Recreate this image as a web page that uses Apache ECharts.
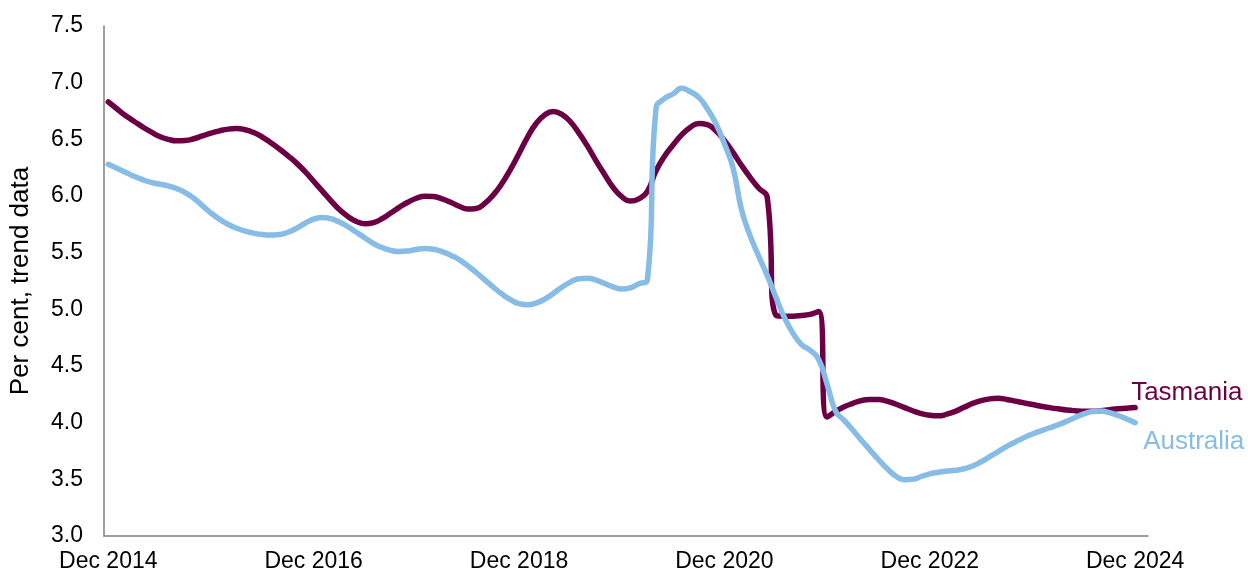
<!DOCTYPE html>
<html>
<head>
<meta charset="utf-8">
<script src="https://cdn.jsdelivr.net/npm/echarts@6/dist/echarts.min.js"></script>
<style>
  html, body { margin: 0; padding: 0; background: #ffffff; }
  #chart { width: 1248px; height: 575px; }
</style>
</head>
<body>
<div id="chart"></div>
<script>
// Monthly categories, Dec 2014 to Jan 2025
const monthNames = ['Jan', 'Feb', 'Mar', 'Apr', 'May', 'Jun', 'Jul', 'Aug', 'Sep', 'Oct', 'Nov', 'Dec'];
const categories = [];
for (let i = 0; i < 122; i++) {
  const k = 11 + i;
  categories.push(monthNames[k % 12] + ' ' + (2014 + Math.floor(k / 12)));
}

// Unemployment rate, per cent, trend data (Dec 2014 .. Dec 2024)
const tasmania = [
  6.83, 6.77, 6.71, 6.66, 6.61, 6.565, 6.525, 6.50, 6.487, 6.49, 6.505, 6.53,
  6.555, 6.575, 6.59, 6.595, 6.585, 6.56, 6.52, 6.47, 6.415, 6.355, 6.29, 6.215,
  6.13, 6.045, 5.96, 5.88, 5.82, 5.775, 5.755, 5.765, 5.80, 5.85, 5.90, 5.945,
  5.98, 5.998, 5.995, 5.975, 5.945, 5.91, 5.885, 5.89, 5.935, 6.01, 6.11, 6.235,
  6.375, 6.52, 6.64, 6.715, 6.745, 6.72, 6.655, 6.555, 6.44, 6.31, 6.19, 6.075,
  5.995, 5.955, 5.975, 6.04, 6.22, 6.35, 6.45, 6.54, 6.605, 6.64, 6.63, 6.575,
  6.49, 6.385, 6.27, 6.165, 6.07, 5.99, 4.95, 4.94, 4.94, 4.945, 4.955, 4.98,
  4.05, 4.10, 4.14, 4.17, 4.195, 4.205, 4.205, 4.19, 4.165, 4.135, 4.105, 4.08,
  4.065, 4.06, 4.075, 4.10, 4.135, 4.17, 4.195, 4.21, 4.215, 4.205, 4.19, 4.175,
  4.16, 4.145, 4.133, 4.122, 4.112, 4.105, 4.10, 4.10, 4.105, 4.115, 4.122, 4.128,
  4.133
];
const australia = [
  6.28, 6.245, 6.21, 6.175, 6.145, 6.12, 6.105, 6.09, 6.065, 6.03, 5.98, 5.915,
  5.85, 5.795, 5.75, 5.715, 5.69, 5.672, 5.66, 5.655, 5.66, 5.68, 5.715, 5.76,
  5.795, 5.81, 5.80, 5.77, 5.73, 5.68, 5.63, 5.58, 5.545, 5.52, 5.51, 5.515,
  5.528, 5.537, 5.53, 5.51, 5.478, 5.438, 5.385, 5.325, 5.26, 5.195, 5.135, 5.085,
  5.05, 5.04, 5.055, 5.09, 5.14, 5.195, 5.24, 5.27, 5.275, 5.258, 5.228, 5.198,
  5.18, 5.19, 5.225, 5.26, 6.77, 6.86, 6.90, 6.95, 6.92, 6.87, 6.77, 6.64,
  6.46, 6.25, 5.88, 5.65, 5.47, 5.30, 5.11, 4.93, 4.79, 4.69, 4.64, 4.56,
  4.34, 4.10, 4.02, 3.935, 3.845, 3.76, 3.675, 3.595, 3.53, 3.497, 3.50, 3.525,
  3.548, 3.563, 3.573, 3.58, 3.593, 3.617, 3.655, 3.70, 3.745, 3.79, 3.83, 3.868,
  3.90, 3.928, 3.955, 3.982, 4.012, 4.045, 4.077, 4.098, 4.103, 4.088, 4.063, 4.033,
  4.00
];

const seriesNames = ['Tasmania', 'Australia'];
const yTicks = { min: 3, max: 7.5, step: 0.5 };
const axisTitle = 'Per cent, trend data';

const FONT = '"Liberation Sans", Arial, sans-serif';
const colTas = '#6c0044';
const colAus = '#87bce6';

const chart = echarts.init(document.getElementById('chart'), null, { renderer: 'canvas' });

chart.setOption({
  animation: false,
  backgroundColor: '#ffffff',
  grid: { left: 104, right: 100, top: 26, bottom: 39, containLabel: false, outerBoundsMode: 'none' },
  xAxis: {
    type: 'category',
    data: categories,
    boundaryGap: true,
    axisLine: { show: true, lineStyle: { color: '#7f7f7f', width: 1.5 } },
    axisTick: { show: false },
    splitLine: { show: false },
    axisLabel: {
      interval: function (index) { return index % 24 === 0; },
      hideOverlap: false,
      color: '#000000',
      fontFamily: FONT,
      fontSize: 23,
      margin: 14
    }
  },
  yAxis: {
    type: 'value',
    min: yTicks.min,
    max: yTicks.max,
    interval: yTicks.step,
    name: axisTitle,
    nameLocation: 'middle',
    nameGap: 70,
    nameRotate: 90,
    nameTextStyle: { color: '#000000', fontFamily: FONT, fontSize: 26 },
    axisLine: { show: true, lineStyle: { color: '#7f7f7f', width: 1.5 } },
    axisTick: { show: false },
    splitLine: { show: false },
    axisLabel: {
      color: '#000000',
      fontFamily: FONT,
      fontSize: 23,
      margin: 21,
      formatter: function (v) { return v.toFixed(1); }
    }
  },
  series: [
    {
      name: seriesNames[0],
      type: 'line',
      data: tasmania,
      smooth: 0.5,
      showSymbol: false,
      lineStyle: { color: colTas, width: 5.5, cap: 'round', join: 'round' },
      itemStyle: { color: colTas },
      endLabel: {
        show: true,
        formatter: '{a}',
        color: colTas,
        fontFamily: FONT,
        fontSize: 26,
        offset: [-12, -15]
      }
    },
    {
      name: seriesNames[1],
      type: 'line',
      data: australia,
      smooth: 0.5,
      showSymbol: false,
      lineStyle: { color: colAus, width: 5.5, cap: 'round', join: 'round' },
      itemStyle: { color: colAus },
      endLabel: {
        show: true,
        formatter: '{a}',
        color: colAus,
        fontFamily: FONT,
        fontSize: 26,
        offset: [0, 19]
      }
    }
  ]
});
</script>
</body>
</html>
